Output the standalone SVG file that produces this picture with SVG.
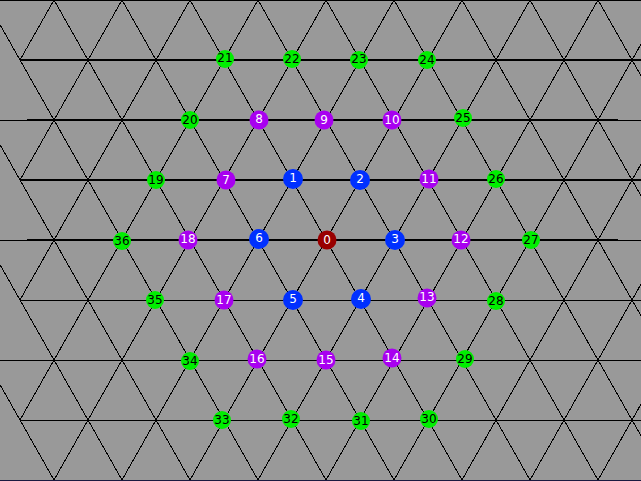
<svg xmlns="http://www.w3.org/2000/svg" width="641" height="481" viewBox="0 0 641 481">
<style>
.bg{fill:#999999}
.h1{stroke:#000;stroke-width:1;fill:none}
.h2{stroke:#000;stroke-width:2;fill:none}
.d{stroke:#000;stroke-width:1;fill:none;shape-rendering:crispEdges}
.node text{font-family:"DejaVu Sans",sans-serif;font-size:12px;text-anchor:middle;dominant-baseline:central}
.g circle{fill:#00ee00}
.g text{fill:#000}
.p circle{fill:#a800f0}
.p text{fill:#fff}
.b circle{fill:#0030ff}
.b text{fill:#fff}
.r circle{fill:#990000}
.r text{fill:#fff}
</style>
<rect class="bg" x="0" y="0" width="641" height="481"/>
<g id="grid">
<line class="h1" x1="0" y1="0.5" x2="641" y2="0.5"/>
<line class="h2" x1="20" y1="60" x2="641" y2="60"/>
<line class="h1" x1="0" y1="120.5" x2="641" y2="120.5"/>
<line class="h2" x1="27" y1="120" x2="618" y2="120"/>
<line class="h2" x1="20" y1="180" x2="641" y2="180"/>
<line class="h1" x1="0" y1="240.5" x2="641" y2="240.5"/>
<line class="h2" x1="27" y1="240" x2="618" y2="240"/>
<line class="h1" x1="20" y1="300.5" x2="641" y2="300.5"/>
<line class="h1" x1="0" y1="360.5" x2="641" y2="360.5"/>
<line class="h1" x1="20" y1="420.5" x2="641" y2="420.5"/>
<line x1="0" y1="480.5" x2="641" y2="480.5" stroke="#1a1a40" stroke-width="1"/>
<!-- down-right family -->
<line class="d" x1="-218" y1="0" x2="54" y2="480"/>
<line class="d" x1="-150" y1="0" x2="122" y2="480"/>
<line class="d" x1="-82" y1="0" x2="190" y2="480"/>
<line class="d" x1="-14" y1="0" x2="258" y2="480"/>
<line class="d" x1="54" y1="0" x2="326" y2="480"/>
<line class="d" x1="122" y1="0" x2="394" y2="480"/>
<line class="d" x1="190" y1="0" x2="462" y2="480"/>
<line class="d" x1="258" y1="0" x2="530" y2="480"/>
<line class="d" x1="326" y1="0" x2="598" y2="480"/>
<line class="d" x1="394" y1="0" x2="666" y2="480"/>
<line class="d" x1="462" y1="0" x2="734" y2="480"/>
<line class="d" x1="530" y1="0" x2="802" y2="480"/>
<line class="d" x1="598" y1="0" x2="870" y2="480"/>
<!-- down-left family -->
<line class="d" x1="54" y1="0" x2="20" y2="60"/>
<line class="d" x1="122" y1="0" x2="20" y2="180"/>
<line class="d" x1="190" y1="0" x2="20" y2="300"/>
<line class="d" x1="258" y1="0" x2="20" y2="420"/>
<line class="d" x1="326" y1="0" x2="54" y2="480"/>
<line class="d" x1="394" y1="0" x2="122" y2="480"/>
<line class="d" x1="462" y1="0" x2="190" y2="480"/>
<line class="d" x1="530" y1="0" x2="258" y2="480"/>
<line class="d" x1="598" y1="0" x2="326" y2="480"/>
<line class="d" x1="666" y1="0" x2="394" y2="480"/>
<line class="d" x1="734" y1="0" x2="462" y2="480"/>
<line class="d" x1="802" y1="0" x2="530" y2="480"/>
<line class="d" x1="870" y1="0" x2="598" y2="480"/>
</g>
<g id="nodes">
<g id="node-0" class="node r"><circle cx="327" cy="240" r="9.5"/><text x="327" y="240">0</text></g>
<g id="node-1" class="node b"><circle cx="293" cy="179" r="10"/><text x="293" y="178">1</text></g>
<g id="node-2" class="node b"><circle cx="360" cy="180" r="10"/><text x="360" y="179">2</text></g>
<g id="node-3" class="node b"><circle cx="395" cy="240" r="10"/><text x="395" y="239">3</text></g>
<g id="node-4" class="node b"><circle cx="361" cy="299" r="10"/><text x="361" y="298">4</text></g>
<g id="node-5" class="node b"><circle cx="293" cy="300" r="10"/><text x="293" y="299">5</text></g>
<g id="node-6" class="node b"><circle cx="259" cy="239" r="10"/><text x="259" y="238">6</text></g>
<g id="node-7" class="node p"><circle cx="226" cy="180" r="9.5"/><text x="226" y="180">7</text></g>
<g id="node-8" class="node p"><circle cx="259" cy="120" r="9.5"/><text x="259" y="119">8</text></g>
<g id="node-9" class="node p"><circle cx="324" cy="120" r="9.5"/><text x="324" y="120">9</text></g>
<g id="node-10" class="node p"><circle cx="392" cy="120" r="9.5"/><text x="392" y="120">10</text></g>
<g id="node-11" class="node p"><circle cx="429" cy="179" r="9.5"/><text x="429" y="179">11</text></g>
<g id="node-12" class="node p"><circle cx="461" cy="240" r="9.5"/><text x="461" y="239">12</text></g>
<g id="node-13" class="node p"><circle cx="427" cy="298" r="9.5"/><text x="427" y="297">13</text></g>
<g id="node-14" class="node p"><circle cx="392" cy="358" r="9.5"/><text x="392" y="358">14</text></g>
<g id="node-15" class="node p"><circle cx="326" cy="360" r="9.5"/><text x="326" y="360">15</text></g>
<g id="node-16" class="node p"><circle cx="257" cy="359" r="9.5"/><text x="257" y="359">16</text></g>
<g id="node-17" class="node p"><circle cx="224" cy="300" r="9.5"/><text x="224" y="300">17</text></g>
<g id="node-18" class="node p"><circle cx="188" cy="240" r="9.5"/><text x="188" y="239">18</text></g>
<g id="node-19" class="node g"><circle cx="156" cy="180" r="9"/><text x="156" y="180">19</text></g>
<g id="node-20" class="node g"><circle cx="190" cy="120" r="9"/><text x="190" y="120">20</text></g>
<g id="node-21" class="node g"><circle cx="225" cy="59" r="9"/><text x="225" y="58">21</text></g>
<g id="node-22" class="node g"><circle cx="292" cy="59" r="9"/><text x="292" y="59">22</text></g>
<g id="node-23" class="node g"><circle cx="359" cy="60" r="9"/><text x="359" y="59">23</text></g>
<g id="node-24" class="node g"><circle cx="427" cy="60" r="9"/><text x="427" y="60">24</text></g>
<g id="node-25" class="node g"><circle cx="463" cy="118" r="9"/><text x="463" y="118">25</text></g>
<g id="node-26" class="node g"><circle cx="496" cy="179" r="9"/><text x="496" y="179">26</text></g>
<g id="node-27" class="node g"><circle cx="531" cy="240" r="9"/><text x="531" y="240">27</text></g>
<g id="node-28" class="node g"><circle cx="496" cy="301" r="9"/><text x="496" y="301">28</text></g>
<g id="node-29" class="node g"><circle cx="465" cy="359" r="9"/><text x="465" y="359">29</text></g>
<g id="node-30" class="node g"><circle cx="429" cy="419" r="9"/><text x="429" y="419">30</text></g>
<g id="node-31" class="node g"><circle cx="361" cy="421" r="9"/><text x="361" y="421">31</text></g>
<g id="node-32" class="node g"><circle cx="291" cy="419" r="9"/><text x="291" y="419">32</text></g>
<g id="node-33" class="node g"><circle cx="222" cy="420" r="9"/><text x="222" y="420">33</text></g>
<g id="node-34" class="node g"><circle cx="190" cy="361" r="9"/><text x="190" y="361">34</text></g>
<g id="node-35" class="node g"><circle cx="155" cy="300" r="9"/><text x="155" y="300">35</text></g>
<g id="node-36" class="node g"><circle cx="122" cy="241" r="9"/><text x="122" y="241">36</text></g>
</g>
</svg>
